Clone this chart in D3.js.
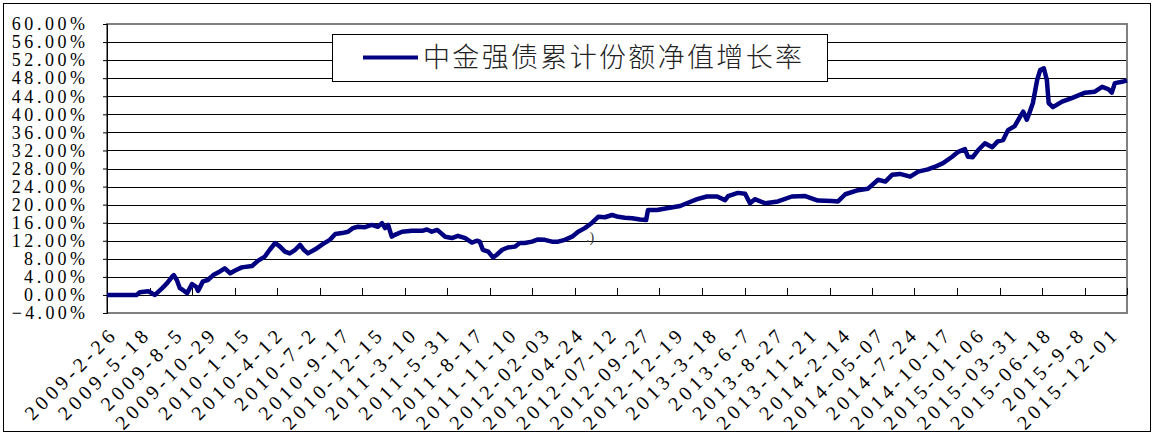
<!DOCTYPE html>
<html>
<head>
<meta charset="utf-8">
<script src="https://cdn.jsdelivr.net/npm/d3@7"></script>
<style>
body{margin:0;background:#fff;}
</style>
</head>
<body>
<div id="chart"></div>
<script>
// series name (legend)
const seriesName = "中金强债累计份额净值增长率";

// y axis ticks, in %
const yTicks = [-4, 0, 4, 8, 12, 16, 20, 24, 28, 32, 36, 40, 44, 48, 52, 56, 60];

// category labels, one every labelStep trading days
const xLabels = ["2009-2-26","2009-5-18","2009-8-5","2009-10-29","2010-1-15","2010-4-12","2010-7-2",
  "2010-9-17","2010-12-15","2011-3-10","2011-5-31","2011-8-17","2011-11-10","2012-02-03","2012-04-24",
  "2012-07-12","2012-09-27","2012-12-19","2013-3-18","2013-6-7","2013-8-27","2013-11-21","2014-2-14",
  "2014-05-07","2014-7-24","2014-10-17","2015-01-06","2015-03-31","2015-06-18","2015-9-8","2015-12-01"];
const labelStep = 55;
const tickStep = 70;
const lastDay = 1680;

// trading day index of each reading, and the cumulative growth (%)
const sampleDay = [0,49,54,68,79,91,99,107,110,115,120,125,132,140,147,150,158,166,175,186,194,203,211,222,
  239,249,260,268,277,285,293,301,310,318,324,331,343,356,367,376,387,397,405,413,425,436,446,453,458,463,
  469,474,486,502,519,527,535,544,557,568,578,590,601,609,614,619,628,636,642,651,660,672,680,688,700,710,
  721,733,743,754,766,776,787,799,809,820,832,842,853,865,878,888,891,906,922,944,955,972,988,1005,1018,
  1023,1039,1051,1059,1067,1084,1105,1128,1150,1171,1194,1204,1216,1237,1253,1270,1282,1293,1306,1323,1336,
  1352,1364,1377,1392,1402,1413,1418,1426,1435,1446,1458,1467,1476,1484,1495,1504,1509,1515,1520,1525,1532,
  1537,1543,1548,1551,1558,1573,1589,1611,1627,1639,1649,1655,1660,1672,1680];
const growth = [0,0,0.6,0.8,0,1.5,2.6,4,4.4,3.3,1.5,1.1,0.4,2.4,1.8,0.9,3,3.3,4.4,5.2,5.9,4.8,5.4,6.1,
  6.4,7.6,8.5,10,11.5,10.7,9.6,9.2,10,11.1,10,9.2,10.1,11.3,12.2,13.5,13.7,14,14.8,15.1,15,15.5,15.1,15.9,14.8,15.5,
  12.9,13.3,14,14.2,14.2,14.5,14,14.4,12.9,12.6,13.1,12.6,11.6,12,11.8,10,9.6,8.3,8.9,10,10.5,10.7,11.5,11.5,11.8,12.3,
  12.2,11.8,11.8,12.2,12.9,14,14.8,16,17.3,17.2,17.7,17.3,17.1,17,16.7,16.6,18.8,18.8,19.2,19.7,20.3,21.2,21.8,21.8,21,
  21.9,22.6,22.4,20.3,21.2,20.3,20.7,21.8,21.9,20.9,20.8,20.7,22.3,23.2,23.5,25.5,25.1,26.6,26.8,26.2,27.3,
  27.8,28.4,29.2,30.6,31.7,32.3,30.6,30.5,32.1,33.6,32.7,34,34.3,36.5,37.4,39.5,40.6,38.8,40.6,42.5,47.6,
  49.8,50.2,47.6,42.5,41.6,42.8,43.6,44.8,45,46.1,45.6,44.8,46.9,47.2,47.5];

function draw_chart(width=1155, height=436){
  const margin = ({top: 24, right: 28, bottom: 123, left: 107});

  const svg = d3.select("#chart").append("svg")
    .attr("width", width)
    .attr("height", height);

  // outer frame of the chart
  svg.append("rect")
    .attr("x", 3.5).attr("y", 3.5)
    .attr("width", width - 8).attr("height", height - 8)
    .attr("fill", "#fff").attr("stroke", "#000");

  const x = d3.scaleLinear().domain([0, lastDay]).range([margin.left, width - margin.right]);
  const y = d3.scaleLinear().domain([-4, 60]).range([height - margin.bottom, margin.top]);

  // horizontal grid
  svg.append("g").selectAll("line")
    .data(yTicks.filter(d => d > -4 && d < 60))
    .enter().append("line")
    .attr("x1", x(0)).attr("x2", x(lastDay))
    .attr("y1", d => Math.round(y(d)) + 0.5).attr("y2", d => Math.round(y(d)) + 0.5)
    .attr("stroke", "#000").attr("stroke-width", 1);

  // plot area border
  svg.append("rect")
    .attr("x", x(0)).attr("y", y(60))
    .attr("width", x(lastDay) - x(0)).attr("height", y(-4) - y(60))
    .attr("fill", "none").attr("stroke", "#808080").attr("stroke-width", 2);

  // y axis
  const yAxis = g => g
    .attr("transform", `translate(${x(0)},0)`)
    .call(d3.axisLeft(y).tickValues(yTicks).tickSize(4).tickFormat(d => d3.format(".2f")(d) + "%"))
    .call(g => g.select(".domain").attr("stroke", "#000"))
    .call(g => g.selectAll("text")
      .attr("x", -22)
      .attr("font-family", "'Liberation Serif', serif")
      .attr("font-size", 18)
      .attr("fill", "#000")
      .attr("textLength", d => (d3.format(".2f")(d) + "%").length * 12.2)
      .attr("lengthAdjust", "spacing"));
  svg.append("g").call(yAxis);

  // category axis crossing at 0%
  svg.append("line")
    .attr("x1", x(0)).attr("x2", x(lastDay))
    .attr("y1", Math.round(y(0)) + 0.5).attr("y2", Math.round(y(0)) + 0.5)
    .attr("stroke", "#000");
  svg.append("g").selectAll("line")
    .data(d3.range(0, lastDay + 1, tickStep))
    .enter().append("line")
    .attr("x1", d => Math.round(x(d)) + 0.5).attr("x2", d => Math.round(x(d)) + 0.5)
    .attr("y1", y(0) - 7).attr("y2", y(0))
    .attr("stroke", "#000");

  // rotated date labels under the plot
  svg.append("g").selectAll("text")
    .data(xLabels)
    .enter().append("text")
    .attr("transform", (d, i) => `translate(${x(i * labelStep) + 9},${height - margin.bottom + 25}) rotate(-45)`)
    .attr("text-anchor", "end")
    .attr("font-family", "'Liberation Serif', serif")
    .attr("font-size", 20)
    .attr("textLength", d => d.length * 13.1)
    .attr("lengthAdjust", "spacing")
    .text(d => d);

  // the curve
  const line = d3.line()
    .x((d, i) => x(sampleDay[i]))
    .y(d => y(d));
  svg.append("path")
    .attr("d", line(growth))
    .attr("fill", "none")
    .attr("stroke", "#000080")
    .attr("stroke-width", 4.5)
    .attr("stroke-linejoin", "round");

  // stray mark left on the original picture
  svg.append("text")
    .attr("x", 586).attr("y", 242)
    .attr("font-family", "'Liberation Serif', serif")
    .attr("font-size", 14).attr("fill", "#333")
    .text(".)");

  // legend
  const legend = svg.append("g");
  legend.append("rect")
    .attr("x", 332.5).attr("y", 34.5).attr("width", 495).attr("height", 47)
    .attr("fill", "#fff").attr("stroke", "#000");
  legend.append("line")
    .attr("x1", 363).attr("x2", 418).attr("y1", 57.5).attr("y2", 57.5)
    .attr("stroke", "#000080").attr("stroke-width", 4);
  legend.append("text")
    .attr("x", 423).attr("y", 67)
    .attr("font-family", "'Noto Sans CJK SC', sans-serif")
    .attr("font-size", 27).attr("font-weight", 300).attr("fill", "#222")
    .attr("textLength", 379).attr("lengthAdjust", "spacing")
    .text(seriesName);

  return svg.node();
}

draw_chart();
</script>
</body>
</html>
